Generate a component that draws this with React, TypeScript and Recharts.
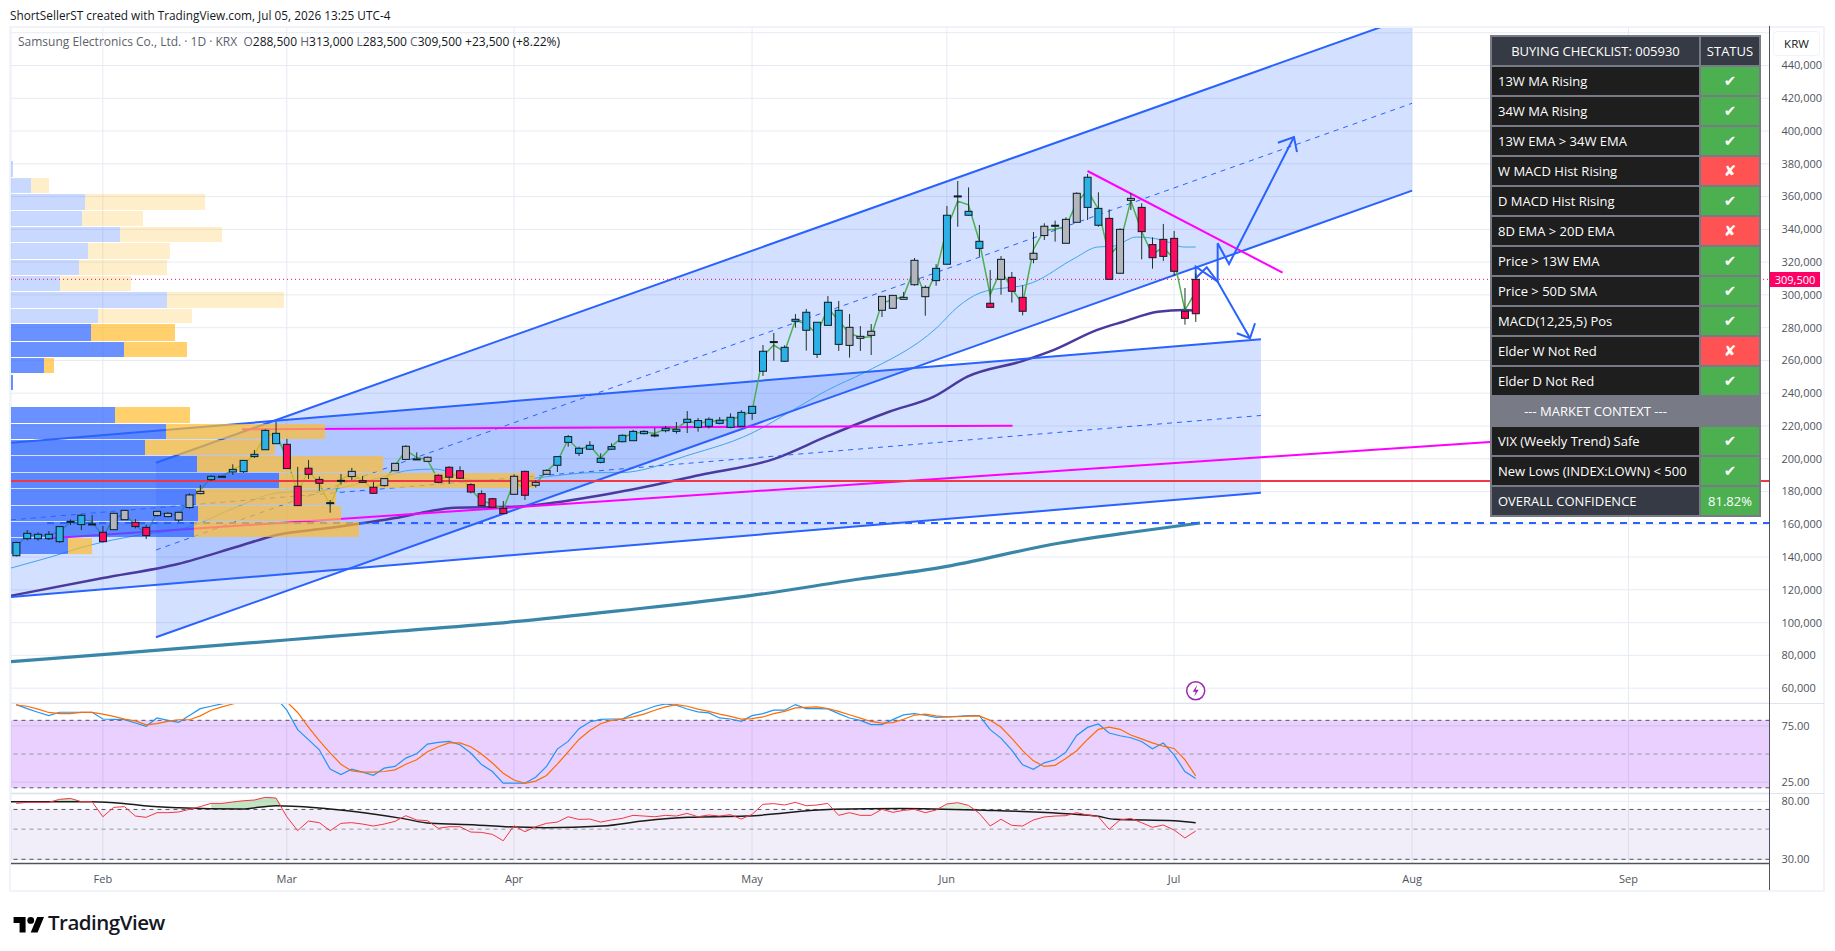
import { Area, Bar, CartesianGrid, ComposedChart, Line, ReferenceArea, ReferenceDot, ReferenceLine, XAxis, YAxis } from "recharts"

// prices are in thousands of KRW, x is the bar index on the time scale
const opens = [140.8,151.2,151.2,151.2,149.4,161.4,159.8,159.8,155.1,156.7,162.8,161.2,158.1,165.3,164.7,162.6,170.2,178.7,187.2,188.9,191.9,192.1,201.3,205.5,209.2,208.8,183.2,194.2,187.4,173.2,186.8,189.1,186.6,182.6,183.6,192.7,199.6,199.9,200.9,189.9,194.8,192.7,184.2,178.7,175.6,169.7,178.3,192.3,183.8,190.5,196.0,210.0,203.3,205.8,197.8,205.8,210.4,211.0,215.3,213.9,217.1,216.7,222.2,219.2,219.8,221.6,219.2,219.8,227.7,253.4,271.1,259.5,283.9,278.4,263.7,281.4,269.8,269.2,273.5,275.3,290.6,291.8,297.3,306.2,298.9,308.7,318.7,360.0,348.6,328.4,294.9,309.5,310.7,298.5,321.7,336.2,342.1,331.5,344.3,353.4,342.5,346.7,313.2,357.7,353.4,330.7,333.9,334.5,290.0,288.5]
const highs = [149.3,156.5,155.1,155.9,159.0,163.0,166.1,165.7,159.0,166.9,168.7,163.2,159.6,168.1,167.3,167.7,178.9,184.0,189.9,189.5,196.6,199.2,205.3,218.0,222.6,212.1,195.0,199.2,189.1,174.8,190.7,194.4,189.5,185.8,188.1,197.4,208.2,203.9,201.3,190.5,195.4,195.4,185.0,180.7,176.1,174.2,190.5,192.7,186.8,193.5,201.7,214.5,207.4,210.7,203.3,209.4,214.9,217.6,217.4,218.8,220.0,222.4,229.1,224.9,225.3,225.5,227.7,229.6,232.0,269.4,276.8,269.2,288.3,291.4,283.3,299.3,296.3,288.3,281.0,282.2,299.3,299.7,301.8,322.5,305.8,318.7,354.3,369.5,365.6,342.7,315.2,323.7,314.0,305.8,338.4,343.7,345.3,347.3,362.6,373.8,362.6,352.2,340.6,362.0,355.9,335.1,343.3,339.0,304.2,313.0]
const lows = [140.4,150.2,150.0,150.4,148.6,159.6,156.5,159.6,149.0,156.5,162.6,157.5,151.0,164.7,164.3,161.4,169.5,178.3,186.4,188.7,190.1,191.3,200.5,205.3,209.0,194.0,171.4,187.6,180.5,167.1,184.2,187.0,185.4,178.5,183.0,192.5,199.4,199.4,198.2,185.0,184.6,187.6,178.9,171.4,170.2,166.3,178.1,174.8,182.4,190.3,191.9,207.4,201.7,205.3,197.2,205.3,210.0,211.0,214.9,213.1,216.1,215.3,215.7,216.5,218.4,221.0,218.6,219.6,223.7,250.5,259.9,259.3,280.0,266.0,261.5,281.4,265.8,261.7,265.8,263.3,286.5,291.6,297.1,305.6,287.3,305.6,318.7,341.6,348.4,323.3,292.4,300.1,295.3,287.5,319.3,333.5,332.5,331.5,344.3,345.7,341.6,309.5,313.2,351.8,321.7,316.0,320.7,311.7,281.8,283.5]
const closes = [148.9,154.5,153.9,153.9,158.6,161.8,165.5,160.2,149.4,166.7,168.5,158.6,153.1,167.9,166.7,167.3,177.9,180.1,189.3,189.3,193.5,199.0,202.7,217.3,215.5,194.0,171.4,190.5,185.0,172.8,186.4,192.3,185.6,178.9,187.9,197.2,207.6,199.5,198.4,185.6,188.7,188.1,179.7,171.4,170.4,166.5,189.3,177.7,185.6,192.9,201.3,213.5,206.4,208.2,200.3,207.4,214.3,216.7,216.7,214.5,218.6,218.0,224.1,223.3,224.1,223.5,225.3,228.3,232.0,265.6,271.5,268.0,285.1,289.4,283.3,295.5,290.6,280.2,274.7,277.8,299.1,299.7,298.5,321.1,304.6,316.2,348.6,360.4,351.0,332.7,292.4,321.7,302.2,290.0,325.4,341.9,342.5,346.1,362.0,371.8,352.8,309.5,340.0,358.9,338.6,322.7,323.5,314.4,285.7,309.5]
const typical = [146.2,153.7,153.0,153.4,155.4,161.5,162.7,161.8,152.5,163.4,166.6,159.4,154.6,166.9,166.1,165.5,175.5,180.8,188.5,189.2,193.4,196.5,202.8,213.6,215.7,200.0,179.6,192.5,184.9,171.6,187.1,191.2,186.7,181.4,186.3,195.7,205.1,200.9,199.3,187.0,189.6,190.3,181.2,174.5,172.2,169.0,186.0,181.7,184.8,192.2,198.3,211.8,205.2,208.1,200.3,207.4,213.1,215.3,216.4,215.4,218.2,218.6,223.0,221.6,222.6,223.3,223.8,226.1,229.1,262.5,269.4,265.2,284.5,282.2,276.0,292.1,284.2,276.6,274.0,274.4,295.0,297.0,299.1,316.4,299.3,313.5,340.5,357.2,355.0,332.9,300.0,315.2,303.8,294.4,327.7,339.4,340.1,341.7,356.3,363.8,352.3,323.7,331.3,357.6,338.7,324.6,329.2,321.7,290.6,302.0]
const kinds = "bbbbbbbbpggppgggggbbbbbbbppppbbgppgggggpppppppgpggbbbbbbbbbbbbbbbbbbbbbbbbbbbggggggggbbbbbpgppggbggbbpggpppppp".split("")

const stochK = [94.0,90.4,87.2,84.2,87.2,87.2,87.2,87.2,81.2,80.9,80.6,77.6,74.7,82.1,80.0,78.2,84.2,90.4,92.5,94.6,97,99,100,100,100,89.0,71.7,62.8,53.8,36.6,31.8,36.6,33.9,31.2,37.5,39.0,46.4,50.3,58.9,60.4,61.3,58.3,50.9,40.7,34.5,24.1,24.1,24.1,29.4,39.0,54.4,61.3,72.6,78.5,80.9,81.2,81.2,85.7,89.0,92.5,94.6,93.4,90.1,87.5,86.6,82.1,81.2,79.1,84.2,86.0,89.0,89.0,94.0,90.4,90.4,90.1,86.0,82.1,80.0,76.2,76.2,80.6,84.8,85.9,84.5,82.7,83.0,83.6,84.2,84.2,71.7,64.2,53.5,40.4,36.5,42.2,44.9,51.7,66.6,73.7,76.7,68.7,66.3,64.5,61.2,54.7,59.8,49.3,34.5,28.2]
const stochD = [93.5,92.5,90,87,86,86,87,87,85.5,83.5,81,79.5,76,77,79,80.5,80.5,84,89,92,94.5,97,99,100,100,96.5,87,74,62,51,41,35,34,34,34.5,36,41,45,52,56.5,60,60,56.5,50,42,33,27,24,26,31,41,52,63,71,77,80,81,83,85.5,89,92,94,92.5,90,88,85.5,83.5,81,81.5,83,86,88,91,91.5,92,90.5,88,85,82,79,77.5,78,81,84.5,85.5,84,83,83.2,83.7,84,80,74,64,53,44,39,40,46,53,63,72,74,72,67,63.5,60,57,55,45,30.6]
const rsi = [78.2,79.1,79.1,79.1,81.7,82.5,79.7,79.7,66.7,74.8,75.4,67.3,66.2,70.2,70.2,70.8,73.1,75.4,78.2,78.2,79.4,80.5,81.1,83.4,82.8,66.7,54.7,63.0,61.6,54.7,61.0,61.6,60.4,58.7,60.4,62.7,67.6,63.9,63.3,56.7,58.1,58.1,53.5,53.2,51.5,46.0,59.0,53.8,58.1,61.0,62.1,66.7,64.4,64.7,62.1,63.9,65.3,67.9,67.3,66.7,67.9,67.3,69.6,66.7,68.2,67.3,68.5,64.7,68.7,77.4,78.0,76.8,79.1,76.2,76.8,78.2,67.9,70.2,67.9,67.9,73.1,70.5,72.2,73.1,70.2,72.5,77.7,78.8,76.5,69.6,58.7,64.5,59.3,58.7,63.9,66.5,67.3,67.6,70.2,68.2,66.8,55.9,63.9,65.3,61.6,57.6,59.6,55.3,48.4,54.4]

const rsiMaX = [-0.5,7,9.9,11.8,15,20.8,24,27.7,31.4,35.6,38.3,42.5,45.2,48.9,54.2,57.9,62.1,67.5,75.4,81.7,88.8,99.8,101.5,107,109]
const rsiMaY = [79.7,79.7,78.2,76.2,74.5,73.4,76.2,74.5,71.0,65.3,61.0,59.6,58.1,57.3,58.7,63,66.2,67.3,73.1,73.9,72.5,67.3,64.5,63.3,61.6]

const sma200X = [-0.49,7.92,24.93,35.46,46,55.8,67.8,77.97,85.36,96.46,102.9,109.4]
const sma200Y = [76.14,80.5,89.38,94.88,100.55,107.27,116.42,126.61,133.57,148.58,154.99,160.79]
const sma50X = [-0.49,8.01,14.94,20.4,24.09,28.8,35,37.96,40.55,46,49.6,55.8,63.2,70,75,80.66,84.8,87.9,93.04,95.9,99.9,102.3,105.5,107.9,108.9]
const sma50Y = [116.4,127.2,135.8,146.3,153.5,157.7,163.8,167.7,170.1,170.7,173.2,179.9,190.1,199.8,213.9,228.7,237.9,250.1,259.7,266.4,278.6,283.6,289.7,290.8,290.4]
const ema13X = [-0.49,2.84,6.9,10.88,16.05,20.4,24.09,28.8,33.9,36.5,38.7,42.3,46,49.6,53.3,55.8,58.6,61,68,71.8,75,78.3,85.05,87.03,89.06,93.9,97.85,99.9,101.45,103.5,105.9,107.9,109]
const ema13Y = [133.3,139.4,147.4,152.9,158.5,170.7,179.1,180.9,189,193.1,193.7,187,187,189.5,191.5,191.5,194.4,199.8,215.7,229.8,242,252.3,279.8,292.8,301.2,307.4,322.5,329.2,329.8,335.3,333.5,329.2,329.2]

const steepX = [12.91,129]
const steepUpper = [197.59,470.21]
const steepMid = [144.31,416.93]
const steepLower = [91.03,363.65]
const flatX = [-0.49,115.03]
const flatUpper = [209.8,272.9]
const flatMid = [162.7,226.4]
const flatLower = [115.63,179.28]

const magentaFlat = [[20.86,217.97],[92.07,220.17]]
const magentaRising = [[2.84,151.33],[136.2,210.22]]
const magentaFalling = [[99,375.61],[117.03,313.55]]
const supportDashed = [[2.84,160.8],[162,160.8]]
const arrowUp = [[109,310.13],[109,317.21],[111.03,308.05],[111.03,331.49],[112.08,318.85],[118.08,396.36]]
const arrowUpHead = [[116.6,392.82],[118.08,396.36],[118.36,387.21]]
const arrowDown = [[109,310.13],[110.02,316.84],[111.03,308.05],[114.02,273.51]]
const arrowDownHead = [[112.8,276.56],[114.02,273.51],[114.48,282.67]]

// volume profile rows: price band, up volume, down volume
const vpTop = [381.7,371.3,361.6,351.2,341.4,331.7,321.3,311.5,301.8,291.4,282.2,271.2,261.5,251.1,231.6,221.2,211.4,201.7,191.3,181.5,171.2,161.4,151.6]
const vpBottom = [372.0,362.2,351.8,342.0,332.3,321.9,312.1,302.4,292.0,282.8,271.9,262.1,252.4,242.0,221.8,212.0,202.3,191.9,182.1,171.8,162.0,152.2,141.8]
const vpUp = [2,20,74,71,109,77,68,49,156,87,80,113,33,2,104,155,134,186,268,185,187,183,57]
const vpDown = [0,18,120,61,102,82,88,71,117,94,84,63,10,0,75,159,130,186,256,140,143,165,24]
const vpInValueArea = [0,0,0,0,0,0,0,0,0,0,1,1,1,1,1,1,1,1,1,1,1,1,1]

const priceTicks = [60,80,100,120,140,160,180,200,220,240,260,280,300,320,340,360,380,400,420,440,460]
const monthTicks = [8,25,46,68,86,107,129,149]
const monthLabels = ["Feb","Mar","Apr","May","Jun","Jul","Aug","Sep"]

const checklist = [
  ["13W MA Rising", "y"],
  ["34W MA Rising", "y"],
  ["13W EMA > 34W EMA", "y"],
  ["W MACD Hist Rising", "n"],
  ["D MACD Hist Rising", "y"],
  ["8D EMA > 20D EMA", "n"],
  ["Price > 13W EMA", "y"],
  ["Price > 50D SMA", "y"],
  ["MACD(12,25,5) Pos", "y"],
  ["Elder W Not Red", "n"],
  ["Elder D Not Red", "y"],
]
const context = [
  ["VIX (Weekly Trend) Safe", "y"],
  ["New Lows (INDEX:LOWN) < 500", "y"],
]

const xy = (xs: number[], ys: number[]) => xs.map((x, i) => ({ x, y: ys[i] }))
const pairs = (pts: number[][]) => pts.map(([x, y]) => ({ x, y }))
const band = (xs: number[], lo: number[], hi: number[]) => xs.map((x, i) => ({ x, range: [lo[i], hi[i]] }))

const candles = opens.map((open, i) => ({
  x: i,
  open,
  high: highs[i],
  low: lows[i],
  close: closes[i],
  kind: kinds[i],
  typical: typical[i],
  range: [lows[i], highs[i]],
}))
const oscRows = stochK.map((k, i) => ({ x: i, k, d: stochD[i], rsi: rsi[i] }))

const rsiFillA = band([3.4,4,5,6,7], [79.7,79.7,79.7,79.7,79.7], [79.7,81.7,82.5,79.7,79.7])
const rsiFillB = band([18,19,20,21,22,23,24,24.6], [73.6,73.5,73.4,73.7,74.2,74.9,76.2,75.7], [78.2,78.2,79.4,80.5,81.1,83.4,82.8,75.7])
const rsiFillC = band([85,86,87,88,89], [72.9,72.8,72.7,72.5,72], [72.9,77.7,78.8,76.5,72])

const BLUE = "#2962ff"
const MAGENTA = "#ff00ff"
const FONT = "'Open Sans', Roboto, sans-serif"
const bodyColor: Record<string, string> = { b: "#2cb1e6", p: "#ff0a5c", g: "#b4b6bd" }

const PLOT_LEFT = 11
const AXIS_W = 65.5
const X_DOMAIN = [-0.49, 162.03]
const PRICE_DOMAIN = [50.93, 464.1]
// one bar on the time scale holds this many volume units of the profile
const VP_UNITS_PER_BAR = 10.82
const vpX = (v: number) => X_DOMAIN[0] + v / VP_UNITS_PER_BAR

const CandleShape = (props: any) => {
  const { x, y, width, height, payload } = props
  const { open, close, high, low, kind } = payload
  const cx = x + width / 2
  const unit = height / (high - low)
  const top = y + (high - Math.max(open, close)) * unit
  const bottom = y + (high - Math.min(open, close)) * unit
  return (
    <g>
      <line x1={cx} x2={cx} y1={y} y2={y + height} stroke="#1d3324" strokeWidth={1} />
      <rect x={x} y={top} width={width} height={Math.max(bottom - top, 1)} fill={bodyColor[kind]} stroke="#0c1c26" strokeWidth={1} />
    </g>
  )
}

const BoltDot = (props: any) => {
  const { cx, cy } = props
  return (
    <g>
      <circle cx={cx} cy={cy} r={9} fill="#fff" stroke="#9c27b0" strokeWidth={1.5} />
      <path d={`M${cx + 1.5} ${cy - 6} L${cx - 3} ${cy + 1} H${cx} L${cx - 1.5} ${cy + 6} L${cx + 3} ${cy - 1} H${cx} Z`} fill="#9c27b0" />
    </g>
  )
}

const seg = (key: string, data: any[], color: string, width = 2, dash?: string, curve: any = "linear") => (
  <Line
    key={key}
    data={data}
    dataKey="y"
    type={curve}
    stroke={color}
    strokeWidth={width}
    strokeDasharray={dash}
    dot={false}
    activeDot={false}
    isAnimationActive={false}
    legendType="none"
  />
)

const axisTick = { fill: "#50535e", fontSize: 11, fontFamily: FONT }

function PriceChart() {
  return (
    <ComposedChart
      width={1835}
      height={677}
      data={candles}
      margin={{ top: 0, right: 0, bottom: 0, left: PLOT_LEFT }}
      style={{ position: "absolute", left: 0, top: 26 }}
    >
      <CartesianGrid stroke="#e6ebf3" strokeWidth={1} />
      <XAxis dataKey="x" type="number" domain={X_DOMAIN} ticks={monthTicks} hide allowDataOverflow />
      <YAxis
        orientation="right"
        width={AXIS_W}
        type="number"
        domain={PRICE_DOMAIN}
        ticks={priceTicks}
        interval={0}
        allowDataOverflow
        axisLine={false}
        tickLine={false}
        tickMargin={6}
        tick={axisTick}
        tickFormatter={(v: number) => (v === 460 ? "" : (v * 1000).toLocaleString("en-US"))}
      />

      <Area data={band(flatX, flatLower, flatUpper)} dataKey="range" type="linear" stroke="none" fill={BLUE} fillOpacity={0.2} dot={false} activeDot={false} isAnimationActive={false} />
      <Area data={band(steepX, steepLower, steepUpper)} dataKey="range" type="linear" stroke="none" fill={BLUE} fillOpacity={0.2} dot={false} activeDot={false} isAnimationActive={false} />

      {seg("sma200", xy(sma200X, sma200Y), "#3a86a8", 3.2, undefined, "monotone")}
      {seg("sma50", xy(sma50X, sma50Y), "#4b3a9e", 2.5, undefined, "monotone")}
      {seg("ema13", xy(ema13X, ema13Y), "#42a5e8", 1, undefined, "monotone")}

      {seg("flatU", xy(flatX, flatUpper), BLUE)}
      {seg("flatM", xy(flatX, flatMid), BLUE, 1, "5 5")}
      {seg("flatL", xy(flatX, flatLower), BLUE)}
      {seg("steepU", xy(steepX, steepUpper), BLUE)}
      {seg("steepM", xy(steepX, steepMid), BLUE, 1, "5 5")}
      {seg("steepL", xy(steepX, steepLower), BLUE)}
      {seg("magFlat", pairs(magentaFlat), MAGENTA)}
      {seg("magRise", pairs(magentaRising), MAGENTA)}
      {seg("magFall", pairs(magentaFalling), MAGENTA)}
      {seg("support", pairs(supportDashed), BLUE, 2, "7 6")}
      {seg("arrowUp", pairs(arrowUp), BLUE)}
      {seg("arrowUpHead", pairs(arrowUpHead), BLUE)}
      {seg("arrowDown", pairs(arrowDown), BLUE)}
      {seg("arrowDownHead", pairs(arrowDownHead), BLUE)}

      <Line dataKey="typical" type="linear" stroke="#4caf50" strokeWidth={1.5} dot={false} activeDot={false} isAnimationActive={false} />
      <ReferenceDot x={109} y={58.4} shape={BoltDot} />
    </ComposedChart>
  )
}

// the profile, the price lines and the candles sit in a second transparent chart,
// so the profile tints the lines below it and the candles stay on top
function TopLayer() {
  return (
    <ComposedChart
      width={1835}
      height={677}
      data={candles}
      margin={{ top: 0, right: AXIS_W, bottom: 0, left: PLOT_LEFT }}
      style={{ position: "absolute", left: 0, top: 26, pointerEvents: "none" }}
    >
      <XAxis dataKey="x" type="number" domain={X_DOMAIN} hide allowDataOverflow />
      <YAxis type="number" domain={PRICE_DOMAIN} hide allowDataOverflow />
      {vpTop.map((top, i) => (
        <ReferenceArea key={`u${i}`} x1={vpX(0)} x2={vpX(vpUp[i])} y1={vpBottom[i]} y2={top} fill={BLUE} fillOpacity={vpInValueArea[i] ? 0.7 : 0.25} stroke="none" />
      ))}
      {vpTop.map((top, i) =>
        vpDown[i] > 0 ? (
          <ReferenceArea key={`d${i}`} x1={vpX(vpUp[i])} x2={vpX(vpUp[i] + vpDown[i])} y1={vpBottom[i]} y2={top} fill="#ffbc2d" fillOpacity={vpInValueArea[i] ? 0.7 : 0.25} stroke="none" />
        ) : null
      )}
      <ReferenceLine y={186.42} stroke="#f23645" strokeWidth={2} />
      <ReferenceLine y={309.5} stroke="#f7006a" strokeWidth={1} strokeDasharray="1 3" />
    </ComposedChart>
  )
}

function CandleLayer() {
  return (
    <ComposedChart
      width={1835}
      height={677}
      data={candles}
      margin={{ top: 0, right: AXIS_W, bottom: 0, left: PLOT_LEFT }}
      style={{ position: "absolute", left: 0, top: 26, pointerEvents: "none" }}
    >
      <XAxis dataKey="x" type="number" domain={X_DOMAIN} hide allowDataOverflow />
      <YAxis type="number" domain={PRICE_DOMAIN} hide allowDataOverflow />
      <Bar dataKey="range" barSize={7} shape={CandleShape} isAnimationActive={false} />
    </ComposedChart>
  )
}

function StochChart() {
  return (
    <ComposedChart
      width={1835}
      height={90}
      data={oscRows}
      margin={{ top: 0, right: 0, bottom: 0, left: PLOT_LEFT }}
      style={{ position: "absolute", left: 0, top: 703 }}
    >
      <CartesianGrid stroke="#e6ebf3" strokeWidth={1} />
      <XAxis dataKey="x" type="number" domain={X_DOMAIN} ticks={monthTicks} hide allowDataOverflow />
      <YAxis
        orientation="right"
        width={AXIS_W}
        type="number"
        domain={[15.4, 95.4]}
        ticks={[25, 75]}
        allowDataOverflow
        axisLine={false}
        tickLine={false}
        tickMargin={6}
        tick={axisTick}
        tickFormatter={(v: number) => v.toFixed(2)}
      />
      <ReferenceArea y1={20} y2={80} fill="#9114ff" fillOpacity={0.2} stroke="none" />
      <ReferenceLine y={80} stroke="#50535e" strokeDasharray="4 4" />
      <ReferenceLine y={50} stroke="#9598a1" strokeDasharray="4 4" />
      <ReferenceLine y={20} stroke="#50535e" strokeDasharray="4 4" />
      <Line dataKey="k" type="linear" stroke="#2196f3" strokeWidth={1.2} dot={false} activeDot={false} isAnimationActive={false} />
      <Line dataKey="d" type="linear" stroke="#ff6d00" strokeWidth={1.2} dot={false} activeDot={false} isAnimationActive={false} />
    </ComposedChart>
  )
}

function RsiChart() {
  return (
    <ComposedChart
      width={1835}
      height={97}
      data={oscRows}
      margin={{ top: 0, right: 0, bottom: 0, left: PLOT_LEFT }}
      style={{ position: "absolute", left: 0, top: 794 }}
    >
      <CartesianGrid stroke="#e6ebf3" strokeWidth={1} />
      <XAxis
        dataKey="x"
        type="number"
        domain={X_DOMAIN}
        ticks={monthTicks}
        interval={0}
        height={27.5}
        allowDataOverflow
        axisLine={{ stroke: "#50535e", strokeWidth: 1.5 }}
        tickLine={false}
        tickMargin={6}
        tick={axisTick}
        tickFormatter={(v: number) => monthLabels[monthTicks.indexOf(v)]}
      />
      <YAxis
        orientation="right"
        width={AXIS_W}
        type="number"
        domain={[26.4, 86.3]}
        ticks={[30, 80]}
        allowDataOverflow
        axisLine={false}
        tickLine={false}
        tickMargin={6}
        tick={axisTick}
        tickFormatter={(v: number) => v.toFixed(2)}
      />
      <ReferenceArea y1={30} y2={73} fill="#7e57c2" fillOpacity={0.1} stroke="none" />
      <ReferenceLine y={73} stroke="#50535e" strokeDasharray="4 4" />
      <ReferenceLine y={56} stroke="#9598a1" strokeDasharray="4 4" />
      <ReferenceLine y={30} stroke="#50535e" strokeDasharray="4 4" />
      <Area data={rsiFillA} dataKey="range" type="linear" stroke="none" fill="#66bb6a" fillOpacity={0.4} dot={false} activeDot={false} isAnimationActive={false} />
      <Area data={rsiFillB} dataKey="range" type="linear" stroke="none" fill="#66bb6a" fillOpacity={0.4} dot={false} activeDot={false} isAnimationActive={false} />
      <Area data={rsiFillC} dataKey="range" type="linear" stroke="none" fill="#66bb6a" fillOpacity={0.2} dot={false} activeDot={false} isAnimationActive={false} />
      {seg("rsiMa", xy(rsiMaX, rsiMaY), "#1a1a1a", 1.5, undefined, "monotone")}
      <Line dataKey="rsi" type="linear" stroke="#f23645" strokeWidth={1} dot={false} activeDot={false} isAnimationActive={false} />
    </ComposedChart>
  )
}

const cell = (bg: string, extra: any = {}) => ({
  background: bg,
  color: "#fff",
  display: "flex",
  alignItems: "center",
  paddingLeft: 6,
  fontSize: 13,
  fontWeight: 500,
  whiteSpace: "nowrap" as const,
  ...extra,
})

function StatusCell({ state }: { state: string }) {
  return (
    <div style={cell(state === "y" ? "#4caf50" : "#ff5252", { justifyContent: "center", paddingLeft: 0, fontFamily: "'DejaVu Sans'", fontSize: 15 })}>
      {state === "y" ? "✔" : "✘"}
    </div>
  )
}

function Checklist() {
  const rows = (list: string[][]) =>
    list.map(([label, state]) => [
      <div key={label} style={cell("#1e1e1e")}>{label}</div>,
      <StatusCell key={`${label}-s`} state={state} />,
    ])
  return (
    <div
      style={{
        position: "absolute",
        left: 1490,
        top: 35,
        width: 271,
        height: 482,
        boxSizing: "border-box",
        padding: 2,
        background: "#787b86",
        display: "grid",
        gridTemplateColumns: "207px 58px",
        gridAutoRows: "28.2px",
        gap: "1.8px 2px",
        fontFamily: FONT,
      }}
    >
      <div style={cell("#363a45", { justifyContent: "center", paddingLeft: 0 })}>BUYING CHECKLIST: 005930</div>
      <div style={cell("#363a45", { justifyContent: "center", paddingLeft: 0 })}>STATUS</div>
      {rows(checklist)}
      <div style={cell("#787b86", { justifyContent: "center", paddingLeft: 0, gridColumn: "1 / span 1" })}>--- MARKET CONTEXT ---</div>
      <div style={cell("#787b86")} />
      {rows(context)}
      <div style={cell("#363a45")}>OVERALL CONFIDENCE</div>
      <div style={cell("#4caf50", { justifyContent: "center", paddingLeft: 0 })}>81.82%</div>
    </div>
  )
}

export default function App() {
  const rule = (style: any) => <div style={{ position: "absolute", ...style }} />
  return (
    <div style={{ position: "absolute", left: 0, top: 0, width: 1835, height: 951, background: "#fff", overflow: "hidden", fontFamily: FONT }}>
      <div style={{ position: "absolute", left: 10, top: 6, fontSize: 11.8, color: "#131722", lineHeight: "18px" }}>
        ShortSellerST created with TradingView.com, Jul 05, 2026 13:25 UTC-4
      </div>

      <PriceChart />
      <TopLayer />
      <CandleLayer />
      <StochChart />
      <RsiChart />

      {/* frame and pane separators */}
      {rule({ left: 9, top: 26, width: 1816, height: 2, background: "#f0f3fa" })}
      {rule({ left: 9, top: 26, width: 2, height: 865, background: "#f0f3fa" })}
      {rule({ left: 9, top: 890, width: 1816, height: 2, background: "#f0f3fa" })}
      {rule({ left: 1823, top: 26, width: 2, height: 865, background: "#f0f3fa" })}
      {rule({ left: 11, top: 702.5, width: 1813, height: 1.5, background: "#e0e3eb" })}
      {rule({ left: 11, top: 792.5, width: 1813, height: 1.5, background: "#e0e3eb" })}
      {rule({ left: 1769, top: 26, width: 1.2, height: 864, background: "#50535e" })}

      <div style={{ position: "absolute", left: 18, top: 33, fontSize: 12, lineHeight: "18px", color: "#5d606b", whiteSpace: "pre" }}>
        {"Samsung Electronics Co., Ltd. · 1D · KRX  O"}
        <span style={{ color: "#131722" }}>288,500</span>
        {" H"}
        <span style={{ color: "#131722" }}>313,000</span>
        {" L"}
        <span style={{ color: "#131722" }}>283,500</span>
        {" C"}
        <span style={{ color: "#131722" }}>309,500</span>
        <span style={{ color: "#131722" }}>{" +23,500 (+8.22%)"}</span>
      </div>

      <Checklist />

      <div style={{ position: "absolute", left: 1773, top: 31, width: 47, height: 25, boxSizing: "border-box", border: "1px solid #f0f3fa", borderRadius: 4, background: "#fff", fontSize: 11.5, color: "#131722", display: "flex", alignItems: "center", justifyContent: "center" }}>
        KRW
      </div>
      <div style={{ position: "absolute", left: 1770, top: 272, width: 50, height: 15, background: "#ff0066", color: "#fff", fontSize: 11, display: "flex", alignItems: "center", justifyContent: "center" }}>
        309,500
      </div>

      <svg style={{ position: "absolute", left: 11, top: 911 }} width="36" height="24" viewBox="0 0 36 28">
        <path d="M14 25H7V14H0V7h14v18zM28 25h-8l7.5-18h8L28 25z" fill="#000" />
        <circle cx="20" cy="11" r="4" fill="#000" />
      </svg>
      <div style={{ position: "absolute", left: 48, top: 907, fontSize: 20.5, fontWeight: 600, color: "#131722", lineHeight: "30px", letterSpacing: -0.5 }}>TradingView</div>
    </div>
  )
}
